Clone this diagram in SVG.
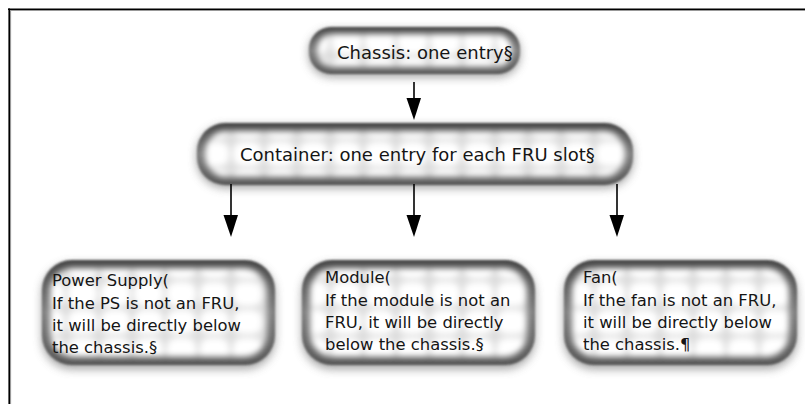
<svg xmlns="http://www.w3.org/2000/svg" width="805" height="404" viewBox="0 0 805 404">
<defs>
<style>
.shadow{fill:#8a8a8a;filter:url(#sh);opacity:.8}
.body{fill:url(#bodyg);filter:url(#edge)}
.inner{fill:url(#cells);filter:url(#soft)}
.t{font-family:"DejaVu Sans","Liberation Sans",sans-serif;fill:#151515}
.big{font-size:18px}
.sm{font-size:16.4px}
.conn line{stroke:#000;stroke-width:1.6}
.conn polygon{fill:#000}
</style>
<linearGradient id="bodyg" x1="0" y1="0" x2="0" y2="1">
<stop offset="0" stop-color="#454545"/>
<stop offset="0.5" stop-color="#808080"/>
<stop offset="1" stop-color="#555555"/>
</linearGradient>
<pattern id="cells" patternUnits="userSpaceOnUse" width="33" height="28">
<rect width="33" height="28" fill="#dedede"/>
<rect x="2" y="2" width="29" height="24" rx="9" fill="#ffffff"/>
</pattern>
<filter id="soft" x="-10%" y="-20%" width="120%" height="140%"><feGaussianBlur stdDeviation="3.4"/></filter>
<filter id="edge" x="-10%" y="-20%" width="120%" height="140%"><feGaussianBlur stdDeviation="1.1"/></filter>
<filter id="sh" x="-20%" y="-40%" width="140%" height="180%"><feGaussianBlur stdDeviation="5"/></filter>
</defs>
<rect x="0" y="0" width="805" height="404" fill="#fff"/>
<g id="frame">
<line x1="9" y1="10.5" x2="805" y2="10.5" stroke="#999" stroke-width="1.2"/>
<line x1="10.5" y1="10" x2="10.5" y2="404" stroke="#999" stroke-width="1.2"/>
<line x1="8" y1="9.2" x2="805" y2="9.2" stroke="#000" stroke-width="1.6"/>
<line x1="9.2" y1="8.5" x2="9.2" y2="404" stroke="#000" stroke-width="1.6"/>
</g>
<g id="chassis">
<rect class="shadow" x="309" y="30" width="211" height="47" rx="22"/>
<rect class="body" x="309" y="27" width="211" height="47" rx="22"/>
<rect class="inner" x="317" y="34" width="195" height="33" rx="15"/>
<text class="t big" x="337" y="59">Chassis: one entry§</text>
</g>
<g id="container">
<rect class="shadow" x="197" y="126" width="436" height="62" rx="28"/>
<rect class="body" x="197" y="123" width="436" height="62" rx="28"/>
<rect class="inner" x="205" y="131" width="420" height="46" rx="21"/>
<text class="t big" x="240" y="161">Container: one entry for each FRU slot§</text>
</g>
<g id="power-supply">
<rect class="shadow" x="42" y="264" width="233" height="105" rx="30"/>
<rect class="body" x="42" y="260" width="233" height="105" rx="30"/>
<rect class="inner" x="50" y="268" width="217" height="89" rx="23"/>
<text class="t sm" x="52" y="286">Power Supply(</text>
<text class="t sm" x="52" y="308.5">If the PS is not an FRU,</text>
<text class="t sm" x="52" y="331">it will be directly below</text>
<text class="t sm" x="52" y="353">the chassis.§</text>
</g>
<g id="module">
<rect class="shadow" x="302" y="264" width="233" height="105" rx="30"/>
<rect class="body" x="302" y="260" width="233" height="105" rx="30"/>
<rect class="inner" x="310" y="268" width="217" height="89" rx="23"/>
<text class="t sm" x="325" y="283">Module(</text>
<text class="t sm" x="325" y="305.5">If the module is not an</text>
<text class="t sm" x="325" y="328">FRU, it will be directly</text>
<text class="t sm" x="325" y="350">below the chassis.§</text>
</g>
<g id="fan">
<rect class="shadow" x="564" y="264" width="233" height="105" rx="30"/>
<rect class="body" x="564" y="260" width="233" height="105" rx="30"/>
<rect class="inner" x="572" y="268" width="217" height="89" rx="23"/>
<text class="t sm" x="583" y="283">Fan(</text>
<text class="t sm" x="583" y="305.5">If the fan is not an FRU,</text>
<text class="t sm" x="583" y="328">it will be directly below</text>
<text class="t sm" x="583" y="350">the chassis.¶</text>
</g>
<g id="connectors" class="conn">
<line x1="414" y1="82" x2="414" y2="100"/>
<polygon points="406.5,98 421,98 414,120"/>
<line x1="231" y1="184" x2="231" y2="217"/>
<polygon points="223.5,215 238,215 231,237"/>
<line x1="414" y1="184" x2="414" y2="217"/>
<polygon points="406.5,215 421,215 414,237"/>
<line x1="617" y1="184" x2="617" y2="217"/>
<polygon points="609.5,215 624,215 617,237"/>
</g>
</svg>
